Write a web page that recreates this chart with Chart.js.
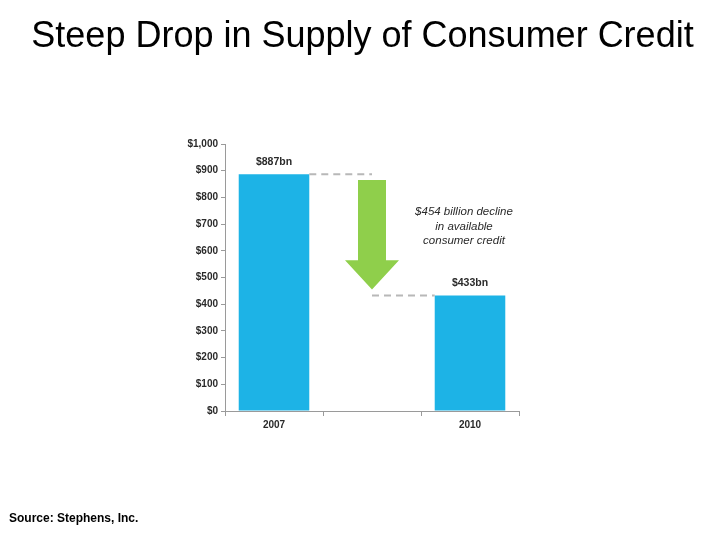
<!DOCTYPE html>
<html>
<head>
<meta charset="utf-8">
<script src="https://cdn.jsdelivr.net/npm/chart.js@4.4.1/dist/chart.umd.min.js"></script>
<style>
  html, body { margin: 0; padding: 0; background: #fff; }
  #wrap { position: relative; width: 720px; height: 540px; overflow: hidden; }
  #title { position: absolute; left: 0; width: 725px; top: 14px; text-align: center;
           font-family: "Liberation Sans", Arial, sans-serif; font-size: 36px; color: #000; white-space: nowrap; }
  #source { position: absolute; left: 9px; top: 511px; font-family: "Liberation Sans", Arial, sans-serif;
            font-size: 12px; font-weight: bold; color: #000; }
  canvas { position: absolute; left: 0; top: 0; }
</style>
</head>
<body>
<div id="wrap">
  <canvas id="c" width="720" height="540"></canvas>
  <div id="title">Steep Drop in Supply of Consumer Credit</div>
  <div id="source">Source: Stephens, Inc.</div>
</div>
<script>
// ---- data ----
const categories = ["2007", "", "2010"];
const creditValues = [887, null, 433];
const valueLabels = ["$887bn", "", "$433bn"];
const yTickValues = [0, 100, 200, 300, 400, 500, 600, 700, 800, 900, 1000];
const arrowFrom = 865;   // top of arrow shaft (value)
const arrowHead = 565;   // where arrow head begins (value)
const arrowTo = 455;     // arrow tip (value)
const declineLines = ["$454 billion decline", "in available", "consumer credit"];

const barColor = "#1DB3E6";
const arrowColor = "#8FCF4B";
const axisColor = "#9a9a9a";
const textColor = "#2a2a2a";
const tickFont = { family: "'Liberation Sans', Arial, sans-serif", size: 10, weight: "bold" };

const overlayPlugin = {
  id: "overlay",
  afterDatasetsDraw(chart) {
    const ctx = chart.ctx;
    const x = chart.scales.x, y = chart.scales.y;
    const meta = chart.getDatasetMeta(0);
    const bar0 = meta.data[0], bar2 = meta.data[2];
    const midX = x.getPixelForValue(1);
    ctx.save();
    // dashed connector lines
    ctx.strokeStyle = "#b8b8b8";
    ctx.lineWidth = 2;
    ctx.setLineDash([7, 5]);
    ctx.beginPath();
    const y0 = y.getPixelForValue(creditValues[0]);
    ctx.moveTo(bar0.x + bar0.width / 2, y0);
    ctx.lineTo(midX, y0);
    const y2 = y.getPixelForValue(creditValues[2]);
    ctx.moveTo(midX, y2);
    ctx.lineTo(bar2.x - bar2.width / 2, y2);
    ctx.stroke();
    ctx.setLineDash([]);
    // arrow
    const top = y.getPixelForValue(arrowFrom);
    const hs = y.getPixelForValue(arrowHead);
    const tip = y.getPixelForValue(arrowTo);
    ctx.fillStyle = arrowColor;
    ctx.beginPath();
    ctx.moveTo(midX - 14, top);
    ctx.lineTo(midX + 14, top);
    ctx.lineTo(midX + 14, hs);
    ctx.lineTo(midX + 27, hs);
    ctx.lineTo(midX, tip);
    ctx.lineTo(midX - 27, hs);
    ctx.lineTo(midX - 14, hs);
    ctx.closePath();
    ctx.fill();
    // value labels
    ctx.fillStyle = textColor;
    ctx.font = "bold 10.5px 'Liberation Sans', Arial, sans-serif";
    ctx.textAlign = "center";
    ctx.textBaseline = "middle";
    meta.data.forEach((b, i) => {
      if (creditValues[i] == null) return;
      ctx.fillText(valueLabels[i], b.x, b.y - 12);
    });
    // annotation
    ctx.font = "italic 11.5px 'Liberation Sans', Arial, sans-serif";
    const ax = x.getPixelForValue(2) - 6;
    let ay = y.getPixelForValue(745);
    declineLines.forEach((t, i) => ctx.fillText(t, ax, ay + i * 14.5));
    ctx.restore();
  }
};

new Chart(document.getElementById("c"), {
  type: "bar",
  data: {
    labels: categories,
    datasets: [{
      data: creditValues,
      backgroundColor: barColor,
      borderWidth: 0,
      barPercentage: 0.72,
      categoryPercentage: 1.0
    }]
  },
  options: {
    responsive: false,
    animation: false,
    events: [],
    layout: { padding: { left: 160, right: 201, top: 144, bottom: 99 } },
    plugins: { legend: { display: false }, tooltip: { enabled: false }, title: { display: false } },
    scales: {
      x: {
        afterFit(s) { s.height = 30; },
        grid: { offset: true, drawOnChartArea: false, drawTicks: true, tickLength: 5, color: axisColor },
        border: { color: axisColor, width: 1 },
        ticks: { font: tickFont, color: textColor, padding: 3 }
      },
      y: {
        min: 0, max: 1000,
        afterFit(s) { s.width = 65; },
        afterBuildTicks(s) { s.ticks = yTickValues.map(v => ({ value: v })); },
        grid: { drawOnChartArea: false, drawTicks: true, tickLength: 4, color: axisColor },
        border: { color: axisColor, width: 1 },
        ticks: {
          font: tickFont, color: textColor, padding: 3,
          callback: v => "$" + v.toLocaleString("en-US")
        }
      }
    }
  },
  plugins: [overlayPlugin]
});
</script>
</body>
</html>
